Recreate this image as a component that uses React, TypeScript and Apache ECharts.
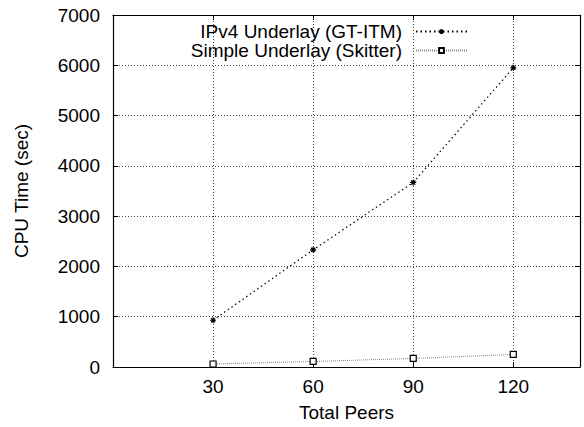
import React, { useEffect, useRef } from "react";
import * as echarts from "echarts";

const peers = [30, 60, 90, 120];
const ipv4Values = [930, 2330, 3670, 5950];
const simpleValues = [60, 110, 170, 250];
const seriesNames = ["IPv4 Underlay (GT-ITM)", "Simple Underlay (Skitter)"];
const xTicks = [30, 60, 90, 120];

const FONT = "Liberation Sans, Arial, Helvetica, sans-serif";
const FS = 19;

export default function App() {
  const ref = useRef<HTMLDivElement>(null);
  useEffect(() => {
    if (!ref.current) return;
    const chart = echarts.init(ref.current, undefined, { renderer: "svg" });
    const star = "path://M5,0 L5,10 M0,5 L10,5 M1.5,1.5 L8.5,8.5 M8.5,1.5 L1.5,8.5";
    const xLabel = (v: number) => (xTicks.indexOf(v) >= 0 ? String(v) : "");
    const baseX = {
      type: "value" as const,
      min: 0,
      max: 140,
      interval: 30,
      axisLine: { show: true, onZero: false, lineStyle: { color: "#000", width: 1.2 } },
      axisTick: { show: true, inside: true, length: 5, lineStyle: { color: "#000" } },
    };
    const baseY = {
      type: "value" as const,
      min: 0,
      max: 7000,
      interval: 1000,
      axisLine: { show: true, onZero: false, lineStyle: { color: "#000", width: 1.2 } },
      axisTick: { show: true, inside: true, length: 5, lineStyle: { color: "#000" } },
    };
    chart.setOption({
      animation: false,
      backgroundColor: "#fff",
      textStyle: { fontFamily: FONT },
      grid: { left: 113, right: 4, top: 15, bottom: 59, containLabel: false },
      legend: {
        orient: "vertical",
        right: 111,
        top: 17,
        itemGap: 0,
        align: "right",
        itemWidth: 51,
        itemHeight: 6,
        data: seriesNames,
        textStyle: { fontSize: FS, color: "#000", fontFamily: FONT, padding: [0, 9, 0, 0] },
      },
      xAxis: [
        {
          ...baseX,
          position: "bottom",
          name: "Total Peers",
          nameLocation: "middle",
          nameGap: 36,
          nameTextStyle: { fontSize: FS, color: "#000", fontFamily: FONT, verticalAlign: "top" },
          axisLabel: { formatter: xLabel, fontSize: FS, color: "#000", margin: 10, fontFamily: FONT },
          splitLine: {
            show: true,
            lineStyle: { color: "#444", type: [1, 2], width: 1 },
          },
        },
        {
          ...baseX,
          position: "top",
          axisLabel: { show: false },
          splitLine: { show: false },
        },
      ],
      yAxis: [
        {
          ...baseY,
          position: "left",
          name: "CPU Time (sec)",
          nameLocation: "middle",
          nameGap: 82,
          nameRotate: 90,
          nameTextStyle: { fontSize: FS, color: "#000", fontFamily: FONT },
          axisLabel: {
            formatter: (v: number) => String(v),
            fontSize: FS,
            color: "#000",
            margin: 13,
            fontFamily: FONT,
          },
          splitLine: {
            show: true,
            lineStyle: { color: "#444", type: [1, 2], width: 1 },
          },
        },
        {
          ...baseY,
          position: "right",
          axisLabel: { show: false },
          splitLine: { show: false },
        },
      ],
      series: [
        {
          name: seriesNames[0],
          type: "line",
          data: peers.map((p, i) => [p, ipv4Values[i]]),
          symbol: star,
          symbolSize: 6,
          lineStyle: { color: "#000", type: [1.5, 3], width: 1.2 },
          itemStyle: { color: "#000", borderColor: "#000", borderWidth: 1.2 },
        },
        {
          name: seriesNames[1],
          type: "line",
          data: peers.map((p, i) => [p, simpleValues[i]]),
          symbol: "rect",
          symbolSize: 6,
          lineStyle: { color: "#888", type: [1, 1], width: 1 },
          itemStyle: { color: "#fff", borderColor: "#000", borderWidth: 1.2 },
        },
      ],
    });
    return () => chart.dispose();
  }, []);
  return (
    <div
      ref={ref}
      style={{ position: "fixed", left: 0, top: 0, width: 584, height: 427 }}
    />
  );
}
